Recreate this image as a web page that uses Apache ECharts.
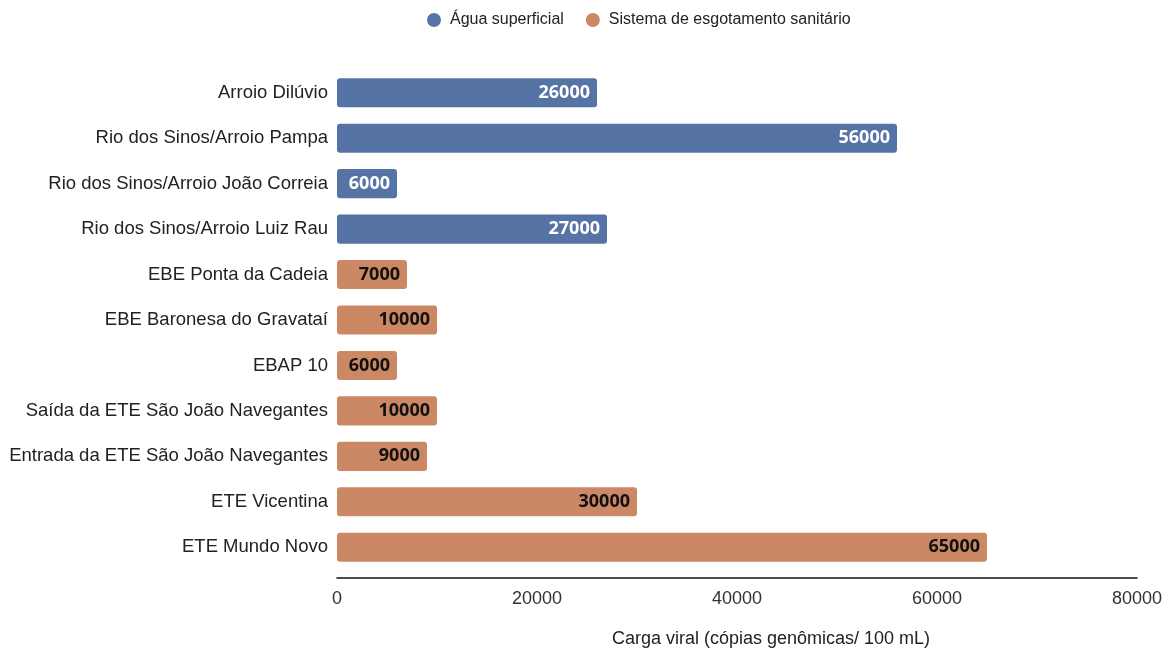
<!DOCTYPE html>
<html>
<head>
<meta charset="utf-8">
<script src="https://cdn.jsdelivr.net/npm/echarts@6/dist/echarts.min.js"></script>
<style>html,body{margin:0;padding:0;background:#fff;}#c{width:1172px;height:650px;}</style>
</head>
<body>
<div id="c"></div>
<script>
const categories = ["Arroio Dilúvio","Rio dos Sinos/Arroio Pampa","Rio dos Sinos/Arroio João Correia","Rio dos Sinos/Arroio Luiz Rau","EBE Ponta da Cadeia","EBE Baronesa do Gravataí","EBAP 10","Saída da ETE São João Navegantes","Entrada da ETE São João Navegantes","ETE Vicentina","ETE Mundo Novo"];
const aguaSuperficial = [26000,56000,6000,27000,null,null,null,null,null,null,null];
const esgotamento = [null,null,null,null,7000,10000,6000,10000,9000,30000,65000];
const seriesNames = ["Água superficial","Sistema de esgotamento sanitário"];
const xTicks = {min:0,max:80000,interval:20000};
const axisTitle = "Carga viral (cópias genômicas/ 100 mL)";

const chart = echarts.init(document.getElementById('c'));
const font = "Liberation Sans, Arial, sans-serif";
chart.setOption({
  animation:false,
  textStyle:{fontFamily:font},
  legend:{
    top:7,left:422,itemGap:22,icon:'circle',itemWidth:14,itemHeight:14,
    textStyle:{fontSize:16,color:'#222',fontFamily:font,padding:[0,0,0,4]}
  },
  grid:{left:337,right:35,top:70,bottom:80,containLabel:false,outerBoundsMode:'none'},
  xAxis:{
    type:'value',min:xTicks.min,max:xTicks.max,interval:xTicks.interval,
    offset:8,
    axisLine:{show:true,lineStyle:{color:'#111',width:1.5}},
    axisTick:{show:false},splitLine:{show:false},
    axisLabel:{fontSize:18,color:'#333',margin:12,fontFamily:font,formatter:v=>String(v)},
    name:axisTitle,nameLocation:'middle',nameGap:52,
    nameTextStyle:{fontSize:18,color:'#222',padding:[0,0,0,68],fontFamily:font}
  },
  yAxis:{
    type:'category',data:categories,inverse:true,
    axisLine:{show:false},axisTick:{show:false},
    axisLabel:{fontSize:18.5,color:'#222',margin:9,fontFamily:font}
  },
  series:[
    {name:seriesNames[0],type:'bar',stack:'t',data:aguaSuperficial,barCategoryGap:'36%',
     itemStyle:{color:'#5673a6',borderRadius:3},
     label:{show:true,position:'insideRight',distance:7,color:'#fff',fontWeight:'bold',fontSize:18,fontFamily:'Open Sans, sans-serif'}},
    {name:seriesNames[1],type:'bar',stack:'t',data:esgotamento,barCategoryGap:'36%',
     itemStyle:{color:'#cc8865',borderRadius:3},
     label:{show:true,position:'insideRight',distance:7,color:'#111',fontWeight:'bold',fontSize:18,fontFamily:'Open Sans, sans-serif'}}
  ]
});
</script>
</body>
</html>
